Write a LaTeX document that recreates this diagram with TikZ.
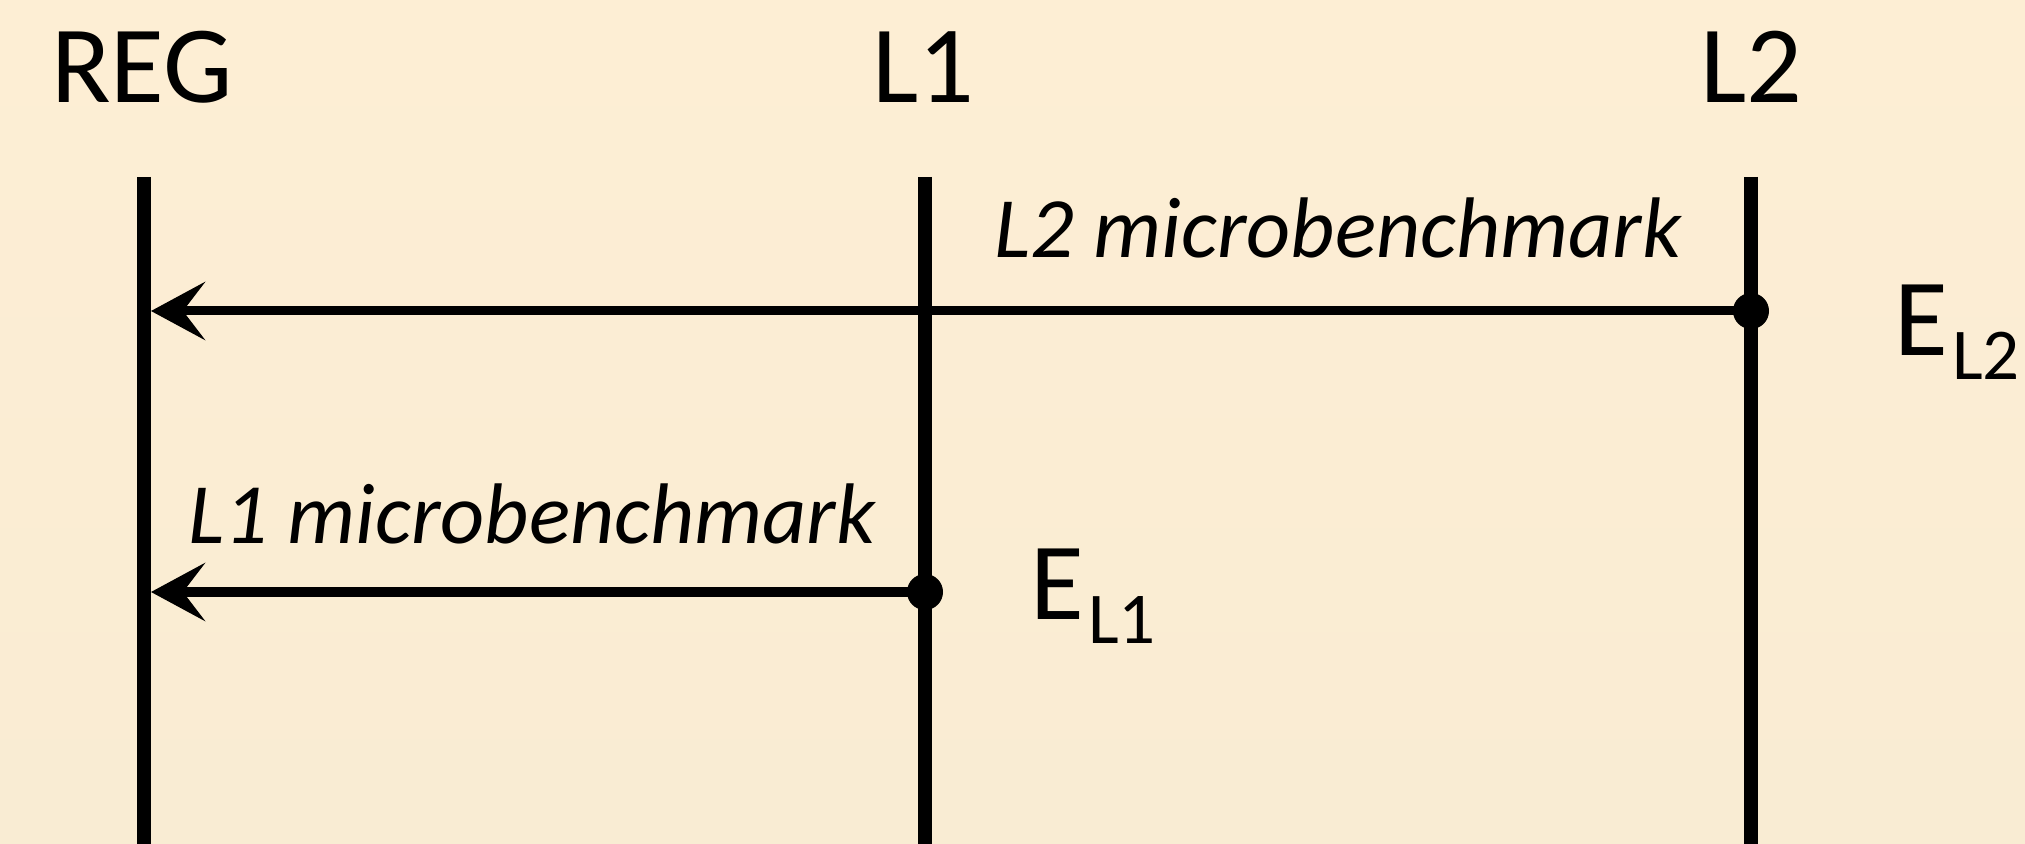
\documentclass[tikz,border=0pt]{standalone}
\usepackage{fontspec}
\setmainfont{Carlito}
\usetikzlibrary{arrows.meta}
\definecolor{papertop}{RGB}{253,238,212}
\definecolor{paperbot}{RGB}{249,236,211}
\begin{document}
\begin{tikzpicture}[x=0.5pt,y=-0.5pt,
  lifeline/.style={line width=7pt},
  msg/.style={line width=4.5pt,
    -{Stealth[length=27pt,width=29pt,inset=11pt]}, shorten >=3.5pt},
  title/.style={font=\fontsize{55}{60}\selectfont, anchor=base},
  msglabel/.style={font=\fontsize{43}{50}\selectfont\itshape, anchor=base},
  event/.style={circle, fill=black, inner sep=0pt, minimum size=18pt},
  elabel/.style={font=\fontsize{55}{60}\selectfont, anchor=base west, inner sep=0pt}]
  % page
  \shade[top color=papertop, bottom color=paperbot] (0,0) rectangle (2025,844);
  \useasboundingbox (0,0) rectangle (2025,844);

  % lifeline titles
  \node[title] (reg) at (142,103) {REG};
  \node[title] (l1)  at (923,103) {L1};
  \node[title] (l2)  at (1751,103) {L2};

  % lifelines
  \coordinate (regtop) at (144,177);  \coordinate (regbot) at (144,844);
  \coordinate (l1top)  at (925,177);  \coordinate (l1bot)  at (925,844);
  \coordinate (l2top)  at (1751,177); \coordinate (l2bot)  at (1751,844);
  \draw[lifeline] (regtop) -- (regbot);
  \draw[lifeline] (l1top) -- (l1bot);
  \draw[lifeline] (l2top) -- (l2bot);

  % events and messages
  \node[event] (e2) at (1751,311) {};
  \node[event] (e1) at (925,592) {};
  \coordinate (r2) at (144,311);
  \coordinate (r1) at (144,592);
  \draw[msg] (e2.center) -- (r2);
  \draw[msg] (e1.center) -- (r1);

  \node[msglabel] (m2) at (1338,258) {L2 microbenchmark};
  \node[msglabel] (m1) at (532,544) {L1 microbenchmark};

  % event labels
  \node[elabel] (el2) at (1894,356) {E\kern2pt\raisebox{-12pt}{\fontsize{36.5}{40}\selectfont L2}};
  \node[elabel] (el1) at (1030,619) {E\kern2pt\raisebox{-12pt}{\fontsize{36.5}{40}\selectfont L1}};
\end{tikzpicture}
\end{document}
